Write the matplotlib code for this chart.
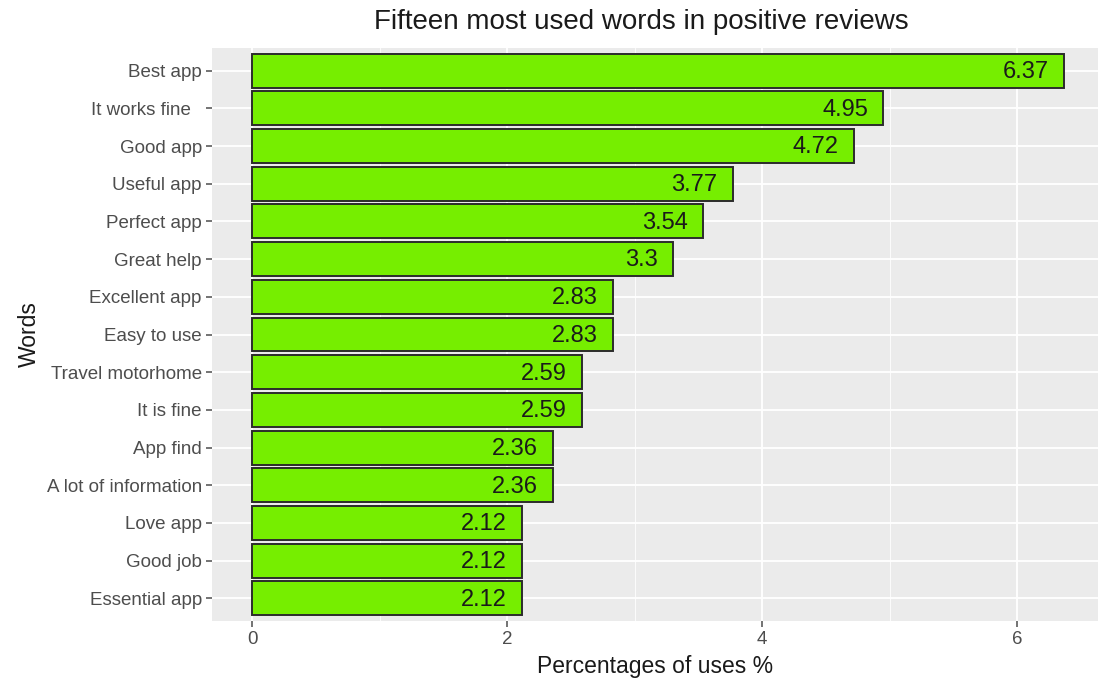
import matplotlib
matplotlib.use("Agg")
import matplotlib.pyplot as plt

# data, top to bottom as shown
words = ["Best app", "It works fine  ", "Good app", "Useful app", "Perfect app",
         "Great help", "Excellent app", "Easy to use", "Travel motorhome", "It is fine",
         "App find", "A lot of information", "Love app", "Good job", "Essential app"]
percent = [6.37, 4.95, 4.72, 3.77, 3.54, 3.3, 2.83, 2.83, 2.59, 2.59, 2.36, 2.36, 2.12, 2.12, 2.12]
value_labels = ["6.37", "4.95", "4.72", "3.77", "3.54", "3.3", "2.83", "2.83", "2.59", "2.59",
                "2.36", "2.36", "2.12", "2.12", "2.12"]
xticks = [0, 2, 4, 6]

plt.rcParams["font.family"] = ["Liberation Sans", "DejaVu Sans"]

W, H = 1098, 681
fig = plt.figure(figsize=(W / 100, H / 100), dpi=100)
left, right, top, bottom = 211.5, 1098, 48, 621
ax = fig.add_axes([left / W, 1 - bottom / H, (right - left) / W, (bottom - top) / H])
ax.set_facecolor("#EBEBEB")

n = len(words)
ypos = list(range(n - 1, -1, -1))
ax.barh(ypos, percent, height=0.9, color="#76EE00", edgecolor="#2b2b2b", linewidth=1.4, zorder=3)
for y, v, lab in zip(ypos, percent, value_labels):
    ax.annotate(lab, (v, y), xytext=(-11, -1), textcoords="offset points",
                ha="right", va="center", fontsize=17, color="#1a1a1a", zorder=4)

ax.set_xlim(-0.3185, 6.635)
ax.set_ylim(-0.6, n - 0.4)
ax.set_xticks(xticks)
ax.set_xticks([1, 3, 5], minor=True)
ax.set_yticks(ypos)
ax.set_yticklabels(words)
ax.grid(True, which="major", color="white", linewidth=1.3, zorder=0)
ax.grid(True, which="minor", axis="x", color="white", linewidth=0.6, zorder=0)
ax.set_axisbelow(True)
for s in ax.spines.values():
    s.set_visible(False)
ax.tick_params(axis="both", which="major", colors="#4D4D4D", labelcolor="#4D4D4D",
               labelsize=13.5, length=4, width=1.1, pad=3)
ax.tick_params(axis="x", which="minor", length=0)

ax.set_xlabel("Percentages of uses %", fontsize=16.5, color="#1a1a1a", labelpad=5)
ax.set_ylabel("Words", fontsize=16.5, color="#1a1a1a", labelpad=4)
fig.text(641 / W, 1 - 22 / H, "Fifteen most used words in positive reviews",
         fontsize=20, color="#1a1a1a", ha="center", va="center")

fig.savefig("out.png", dpi=100)
